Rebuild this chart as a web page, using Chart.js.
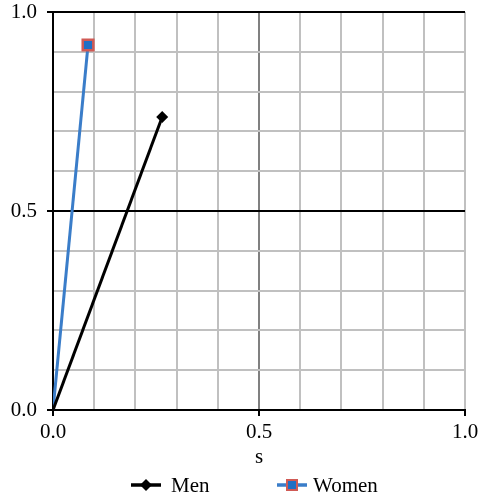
<!DOCTYPE html>
<html>
<head>
<meta charset="utf-8">
<script src="https://cdn.jsdelivr.net/npm/chart.js@4/dist/chart.umd.min.js"></script>
<style>
  html, body { margin: 0; padding: 0; background: #fff; }
  #wrap { width: 479px; height: 499px; }
</style>
</head>
<body>
<div id="wrap"><canvas id="chart" width="479" height="499"></canvas></div>
<script>
// values
const seriesNames = ['Men', 'Women'];
const menS = [0, 0.265];
const menValues = [0, 0.736];
const womenS = [0, 0.085];
const womenValues = [0, 0.917];
const tickLabels = ['0.0', '0.5', '1.0'];

const FONT = 'Liberation Serif';
const FSIZE = 21;
const MEN_COLOR = '#000';
const WOMEN_LINE = '#3a7dc9';
const WOMEN_FILL = '#1f6fc5';
const WOMEN_EDGE = '#d05a55';

const isMajor = v => Math.abs(v * 2 - Math.round(v * 2)) < 1e-6;
const fmt = v => isMajor(v) ? tickLabels[Math.round(v * 2)] : '';
const toPoints = (xs, ys) => xs.map((x, i) => ({ x, y: ys[i] }));

// legend drawn by hand so the item spacing matches the original
const bottomLegend = {
  id: 'bottomLegend',
  afterDraw(chart) {
    const g = chart.ctx;
    const y = 485;
    const items = [
      { name: seriesNames[0], x: 131 },
      { name: seriesNames[1], x: 277 },
    ];
    g.save();
    items.forEach(it => {
      const men = it.name === seriesNames[0];
      g.lineWidth = 3.5;
      g.strokeStyle = men ? MEN_COLOR : WOMEN_LINE;
      g.beginPath(); g.moveTo(it.x, y); g.lineTo(it.x + 30, y); g.stroke();
      const cx = it.x + 15;
      if (men) {
        g.fillStyle = MEN_COLOR;
        g.beginPath(); g.moveTo(cx, y - 6); g.lineTo(cx + 6, y); g.lineTo(cx, y + 6); g.lineTo(cx - 6, y); g.closePath(); g.fill();
      } else {
        g.fillStyle = WOMEN_FILL; g.fillRect(cx - 5, y - 5, 10, 10);
        g.strokeStyle = WOMEN_EDGE; g.lineWidth = 2; g.strokeRect(cx - 5, y - 5, 10, 10);
      }
      g.fillStyle = '#000';
      g.font = FSIZE + 'px "' + FONT + '"';
      g.textBaseline = 'middle';
      g.textAlign = 'left';
      g.fillText(it.name, it.x + (men ? 40 : 36), y + 1);
    });
    g.restore();
  },
};

new Chart(document.getElementById('chart').getContext('2d'), {
  type: 'scatter',
  data: {
    datasets: [
      {
        label: seriesNames[0],
        data: toPoints(menS, menValues),
        showLine: true,
        borderColor: MEN_COLOR,
        borderWidth: 3,
        backgroundColor: MEN_COLOR,
        pointStyle: 'rectRot',
        pointRadius: [0, 6],
        pointBorderWidth: 0,
      },
      {
        label: seriesNames[1],
        data: toPoints(womenS, womenValues),
        showLine: true,
        borderColor: WOMEN_LINE,
        borderWidth: 3,
        backgroundColor: WOMEN_FILL,
        pointStyle: 'rect',
        pointRadius: [0, 7.5],
        pointBorderColor: WOMEN_EDGE,
        pointBorderWidth: 2.5,
      },
    ],
  },
  options: {
    responsive: false,
    animation: false,
    layout: { padding: { top: 12, right: 14, left: 0, bottom: 29 } },
    plugins: {
      tooltip: { enabled: false },
      legend: { display: false },
    },
    scales: {
      x: {
        type: 'linear',
        min: 0, max: 1,
        border: { display: true, color: '#000', width: 2 },
        grid: {
          color: c => c.tick.value === 0.5 ? '#808080' : '#c0c0c0',
          lineWidth: 2,
          tickColor: c => isMajor(c.tick.value) ? '#000' : 'rgba(0,0,0,0)',
          tickLength: 6,
          tickWidth: 2,
        },
        ticks: {
          stepSize: 0.1,
          autoSkip: false,
          maxRotation: 0,
          color: '#000',
          padding: 4,
          font: { family: FONT, size: FSIZE },
          callback: v => fmt(v),
        },
        title: {
          display: true,
          text: 's',
          color: '#000',
          font: { family: FONT, size: FSIZE },
          padding: { top: 0, bottom: 0 },
        },
        afterFit: s => { s.height = 60; s.paddingLeft = 0; s.paddingRight = 0; },
      },
      y: {
        type: 'linear',
        min: 0, max: 1,
        border: { display: true, color: '#000', width: 2 },
        grid: {
          color: c => (c.tick.value === 0.5 || c.tick.value === 1) ? '#000' : '#c0c0c0',
          lineWidth: 2,
          tickColor: c => isMajor(c.tick.value) ? '#000' : 'rgba(0,0,0,0)',
          tickLength: 6,
          tickWidth: 2,
        },
        ticks: {
          stepSize: 0.1,
          autoSkip: false,
          color: '#000',
          padding: 10,
          font: { family: FONT, size: FSIZE },
          callback: v => fmt(v),
        },
        afterFit: s => { s.width = 53; s.paddingTop = 0; s.paddingBottom = 0; },
      },
    },
  },
  plugins: [bottomLegend],
});
</script>
</body>
</html>
